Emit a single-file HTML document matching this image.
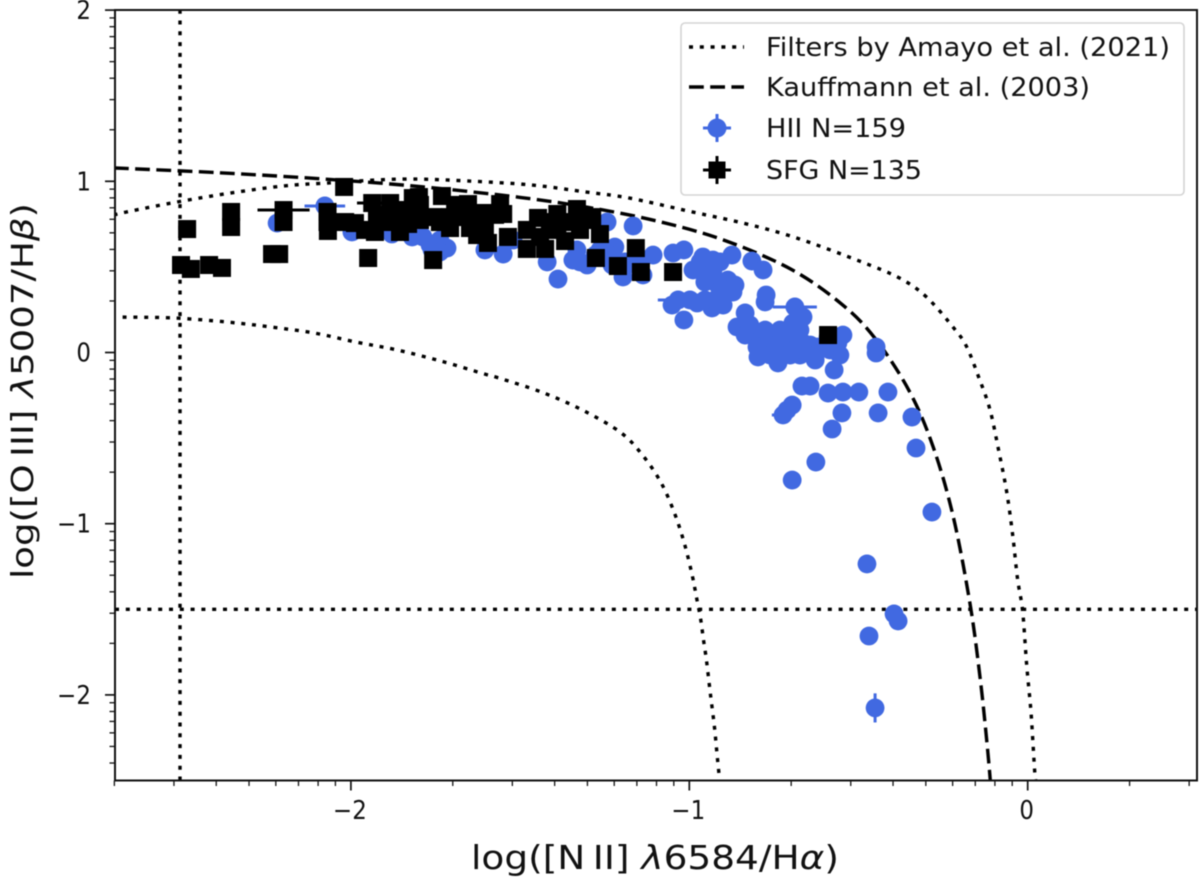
<!DOCTYPE html>
<html lang="en">
<head>
<meta charset="utf-8">
<title>BPT diagram</title>
<style>
html,body{margin:0;padding:0;background:#fff;width:1200px;height:878px;overflow:hidden}
svg{display:block;filter:blur(0.45px)}
text{font-family:"DejaVu Sans","Liberation Sans",sans-serif;fill:#111}
</style>
</head>
<body>
<svg id="chart" width="1200" height="878" viewBox="0 0 1200 878" xmlns="http://www.w3.org/2000/svg">
  <defs><clipPath id="plot-clip"><rect x="115" y="10" width="1082" height="770.5"/></clipPath></defs>
  <rect x="0" y="0" width="1200" height="878" fill="#fff"/>
  <g id="lines" clip-path="url(#plot-clip)"></g>
  <g id="marks" clip-path="url(#plot-clip)"></g>
  <g id="ticks"></g>
  <rect x="115" y="10" width="1082" height="770.5" fill="none" stroke="#111" stroke-width="2"/>

  <text x="655" y="869" text-anchor="middle" font-size="33" textLength="368" lengthAdjust="spacingAndGlyphs">log([N&#8201;II] <tspan font-style="italic">λ</tspan>6584/H<tspan font-style="italic">α</tspan>)</text>
  <text transform="translate(33,391) rotate(-90)" text-anchor="middle" font-size="30" textLength="376" lengthAdjust="spacingAndGlyphs">log([O&#8201;III] <tspan font-style="italic">λ</tspan>5007/H<tspan font-style="italic">β</tspan>)</text>

  <g>
    <rect x="681" y="23" width="503" height="172" rx="4" fill="#fff" fill-opacity="0.85" stroke="#d4d4d4" stroke-width="1.6"/>
    <g>
      <line x1="689" y1="47" x2="744" y2="47" stroke="#000" stroke-width="3.4" stroke-dasharray="4 6.8"/>
      <text x="766" y="56" font-size="25.5" textLength="404" lengthAdjust="spacingAndGlyphs">Filters by Amayo et al. (2021)</text>
    </g>
    <g>
      <line x1="689" y1="87" x2="744" y2="87" stroke="#000" stroke-width="3.4" stroke-dasharray="14.8 6.4"/>
      <text x="766" y="96" font-size="25.5" textLength="324" lengthAdjust="spacingAndGlyphs">Kauffmann et al. (2003)</text>
    </g>
    <g>
      <path d="M703 128H731M717 114V142" stroke="#4169e1" stroke-width="3"/>
      <circle cx="717" cy="128" r="9.5" fill="#4169e1"/>
      <text x="766" y="137" font-size="25.5" textLength="140" lengthAdjust="spacingAndGlyphs">HII N=159</text>
    </g>
    <g>
      <path d="M703 170H731M717 156V184" stroke="#000" stroke-width="3"/>
      <rect x="708.5" y="161.5" width="17" height="17" fill="#000"/>
      <text x="766" y="179" font-size="25.5" textLength="156" lengthAdjust="spacingAndGlyphs">SFG N=135</text>
    </g>
  </g>
</svg>
<script>
// ---- axis tick values ----
const xTickValues = [-2, -1, 0];
const xTickLabels = ['\u22122', '\u22121', '0'];
const yTickValues = [-2, -1, 0, 1, 2];
const yTickLabels = ['\u22122', '\u22121', '0', '1', '2'];
const minorMultipliers = [2, 3, 4, 5, 6, 7, 8, 9];
const minorDecades = [-3, -2, -1, 0, 1];

// ---- filter lines ----
const verticalFilterX = [-2.505];
const horizontalFilterY = [-1.5];

// ---- curves ----
const upperX = [-2.7,-2.677,-2.514,-2.354,-2.198,-2.07,-1.849,-1.656,-1.464,-1.304,-1.177,-0.991,-0.831,-0.683,-0.497,-0.379,-0.299,-0.216,-0.18,-0.145,-0.112,-0.086,-0.062,-0.044,-0.03,-0.015,-0.003,0.009,0.015,0.021,0.024];
const upperY = [0.8,0.815,0.879,0.932,0.973,0.99,1.013,1.002,0.978,0.937,0.902,0.821,0.751,0.669,0.534,0.435,0.324,0.137,0.032,-0.143,-0.33,-0.57,-0.815,-1.072,-1.323,-1.51,-1.825,-2.082,-2.263,-2.456,-2.503];
const lowerX = [-2.7,-2.686,-2.526,-2.366,-2.236,-2.109,-1.985,-1.864,-1.734,-1.615,-1.553,-1.429,-1.31,-1.201,-1.136,-1.083,-1.044,-1.014,-0.991,-0.979,-0.967,-0.958,-0.949,-0.938,-0.926,-0.917,-0.911];
const lowerY = [0.21,0.207,0.202,0.178,0.149,0.114,0.061,0.015,-0.05,-0.12,-0.155,-0.237,-0.342,-0.47,-0.605,-0.762,-0.937,-1.119,-1.305,-1.428,-1.551,-1.679,-1.802,-1.989,-2.182,-2.368,-2.485];
const kauffmannX = [-2.7,-2.4,-2.1,-1.8,-1.5,-1.3,-1.1,-0.9,-0.7,-0.55,-0.45,-0.35,-0.28,-0.22,-0.17,-0.14,-0.12,-0.11];
const kauffmannY = [1.078,1.051,1.016,0.97,0.906,0.848,0.77,0.658,0.487,0.283,0.08,-0.225,-0.548,-0.959,-1.473,-1.911,-2.288,-2.512];

// ---- HII sample ----
const hiiX = [-2.077,-1.033,-0.688,-0.723,-0.451,-2.218,-1.997,-1.879,-1.819,-1.746,-1.766,-1.737,-1.787,-1.604,-1.55,-1.521,-1.42,-1.388,-1.344,-1.302,-1.332,-1.264,-1.243,-1.166,-1.22,-1.225,-1.196,-1.196,-1.137,-1.107,-1.048,-1.016,-0.96,-0.93,-0.989,-0.954,-0.874,-0.815,-0.782,-0.886,-0.871,-0.9,-0.933,-0.977,-1.051,-1.016,-0.773,-0.776,-0.835,-0.859,-0.835,-0.797,-0.797,-0.8,-0.738,-0.738,-0.664,-0.694,-0.702,-0.664,-0.623,-0.753,-0.584,-0.546,-0.555,-0.572,-0.448,-0.448,-0.667,-0.643,-0.59,-0.546,-0.499,-0.413,-0.696,-0.711,-0.549,-0.442,-0.342,-0.578,-0.33,-0.626,-0.696,-0.283,-0.475,-0.395,-0.383,-0.469,-0.673,-0.761,-0.702,-0.628,-0.915,-1.76,-1.716,-1.737,-1.323,-1.278,-1.19,-1.228,-1.146,-1.234,-0.93,-0.909,-0.998,-0.954,-0.895,-0.865,-0.968,-0.939,-0.924,-0.767,-0.732,-0.673,-0.643,-0.688,-0.732,-0.761,-0.628,-0.59,-0.561,-0.821,-0.776,-0.732];
const hiiY = [0.856,0.307,0.266,-0.365,-2.076,0.756,0.704,0.692,0.675,0.616,0.628,0.657,0.675,0.599,0.575,0.657,0.529,0.429,0.54,0.511,0.599,0.599,0.762,0.739,0.616,0.54,0.441,0.482,0.453,0.569,0.581,0.599,0.558,0.54,0.482,0.412,0.569,0.534,0.482,0.423,0.353,0.277,0.26,0.289,0.277,0.19,0.336,0.295,0.231,0.149,0.102,0.102,-0.026,0.032,0.102,-0.061,0.207,0.172,0.073,0.055,0.032,0.015,0.015,0.102,-0.015,-0.102,0.032,-0.003,-0.196,-0.196,-0.237,-0.231,-0.231,-0.231,-0.307,-0.336,-0.353,-0.353,-0.377,-0.447,-0.558,-0.64,-0.745,-0.932,-1.235,-1.527,-1.568,-1.656,-0.015,0.102,-0.015,-0.044,0.394,0.599,0.61,0.587,0.529,0.569,0.529,0.511,0.529,0.569,0.482,0.529,0.307,0.307,0.365,0.394,0.529,0.453,0.307,0.044,0.044,0.131,0.044,0.015,-0.015,-0.015,-0.015,0.091,0.055,0.161,0.131,0.131];
const hiiXErr = [0.06,0.06,0.065,0.033,0];
const hiiYErr = [0.03,0,0,0,0.085];

// ---- SFG sample ----
const sfgX = [-2.199,-1.937,-2.502,-2.473,-2.419,-2.381,-2.484,-2.354,-2.354,-2.199,-2.233,-2.212,-2.02,-2.069,-2.069,-2.068,-2.017,-1.958,-1.929,-1.949,-1.884,-1.817,-1.988,-1.923,-1.864,-1.831,-1.796,-1.731,-1.834,-1.757,-1.707,-1.737,-1.757,-1.654,-1.654,-1.627,-1.595,-1.559,-1.55,-1.61,-1.536,-1.48,-1.48,-1.447,-1.39,-1.332,-1.287,-1.264,-1.367,-1.426,-1.39,-1.323,-1.441,-1.276,-1.211,-1.158,-1.143,-1.048,-0.59,-1.707,-1.855,-1.796,-1.692,-1.799,-1.908,-1.855,-1.884,-1.819,-1.412,-1.353,-1.308,-1.604,-1.648,-1.574];
const sfgY = [0.832,0.873,0.511,0.488,0.511,0.494,0.721,0.821,0.733,0.762,0.575,0.575,0.967,0.821,0.762,0.71,0.762,0.716,0.704,0.552,0.873,0.902,0.756,0.774,0.774,0.751,0.774,0.914,0.832,0.791,0.791,0.762,0.54,0.867,0.791,0.686,0.64,0.867,0.809,0.815,0.675,0.605,0.716,0.786,0.809,0.838,0.791,0.692,0.651,0.605,0.716,0.716,0.675,0.552,0.505,0.61,0.47,0.47,0.102,0.727,0.704,0.862,0.862,0.908,0.803,0.832,0.762,0.803,0.762,0.762,0.774,0.733,0.727,0.804];
const sfgXErr = [0.077,0.045];

const SVG_NS = 'http://www.w3.org/2000/svg';
const X_ZERO = 1027.7, X_UNIT = 338.4, Y_ZERO = 352.5, Y_UNIT = 171.2;
const PLOT_LEFT = 115, PLOT_RIGHT = 1197, PLOT_TOP = 10, PLOT_BOTTOM = 780.5;
const sx = v => X_ZERO + X_UNIT * v;
const sy = v => Y_ZERO - Y_UNIT * v;
const make = (tag, props, parent) => {
  const el = document.createElementNS(SVG_NS, tag);
  Object.keys(props).forEach(k => el.setAttribute(k, props[k]));
  parent.appendChild(el);
  return el;
};

function smoothPath(xs, ys) {
  const p = xs.map((x, i) => [sx(x), sy(ys[i])]);
  let d = 'M' + p[0][0].toFixed(2) + ' ' + p[0][1].toFixed(2);
  for (let i = 0; i < p.length - 1; i++) {
    const a = p[Math.max(i - 1, 0)], b = p[i], c = p[i + 1], e = p[Math.min(i + 2, p.length - 1)];
    const c1 = [b[0] + (c[0] - a[0]) / 6, b[1] + (c[1] - a[1]) / 6];
    const c2 = [c[0] - (e[0] - b[0]) / 6, c[1] - (e[1] - b[1]) / 6];
    d += 'C' + c1[0].toFixed(2) + ' ' + c1[1].toFixed(2) + ' ' + c2[0].toFixed(2) + ' ' + c2[1].toFixed(2) + ' ' + c[0].toFixed(2) + ' ' + c[1].toFixed(2);
  }
  return d;
}

const linesG = document.getElementById('lines');
const marksG = document.getElementById('marks');
const ticksG = document.getElementById('ticks');
const DOTTED = { fill: 'none', stroke: '#000', 'stroke-width': 3.4, 'stroke-dasharray': '4 6.8' };

const upperPath = make('path', Object.assign({ d: smoothPath(upperX, upperY) }, DOTTED), linesG);



const lowerPath = make('path', Object.assign({ d: smoothPath(lowerX, lowerY) }, DOTTED), linesG);



const kauffmannPath = make('path', { d: smoothPath(kauffmannX, kauffmannY), fill: 'none', stroke: '#000', 'stroke-width': 3.4, 'stroke-dasharray': '14.8 6.4' }, linesG);



verticalFilterX.forEach(v => {
  const line = make('line', Object.assign({ x1: sx(v), x2: sx(v), y1: PLOT_BOTTOM, y2: PLOT_TOP }, DOTTED), linesG);
  
  
});
horizontalFilterY.forEach(v => {
  const line = make('line', Object.assign({ x1: PLOT_LEFT, x2: PLOT_RIGHT, y1: sy(v), y2: sy(v) }, DOTTED), linesG);
  
  
});

hiiX.forEach((x, i) => {
  const xe = hiiXErr[i] || 0, ye = hiiYErr[i] || 0;
  if (xe || ye) {
    const err = make('path', {
      d: 'M' + sx(x - xe) + ' ' + sy(hiiY[i]) + 'H' + sx(x + xe) + 'M' + sx(x) + ' ' + sy(hiiY[i] - ye) + 'V' + sy(hiiY[i] + ye),
      stroke: '#4169e1', 'stroke-width': 3, fill: 'none'
    }, marksG);
    
    
  }
  const dot = make('circle', { cx: sx(x), cy: sy(hiiY[i]), r: 9.4, fill: '#4169e1' }, marksG);
  
  
});

sfgX.forEach((x, i) => {
  const xe = sfgXErr[i] || 0;
  if (xe) {
    const err = make('line', { x1: sx(x - xe), x2: sx(x + xe), y1: sy(sfgY[i]), y2: sy(sfgY[i]), stroke: '#000', 'stroke-width': 3 }, marksG);
    
    
  }
  const sq = make('rect', { x: sx(x) - 9, y: sy(sfgY[i]) - 9, width: 18, height: 18, fill: '#000' }, marksG);
  
  
});

xTickValues.forEach((v, i) => {
  const tick = make('line', { x1: sx(v), x2: sx(v), y1: PLOT_BOTTOM, y2: PLOT_BOTTOM + 10, stroke: '#111', 'stroke-width': 1.7 }, ticksG);
  
  
  const label = make('text', { transform: 'translate(' + (sx(v) - 1) + ',819) scale(0.9,1)', 'text-anchor': 'middle', 'font-size': 25.5 }, ticksG);
  
  
  label.textContent = xTickLabels[i];
});
yTickValues.forEach((v, i) => {
  const tick = make('line', { x1: PLOT_LEFT - 10, x2: PLOT_LEFT, y1: sy(v), y2: sy(v), stroke: '#111', 'stroke-width': 1.7 }, ticksG);
  
  
  const label = make('text', { transform: 'translate(91,' + (sy(v) + 9) + ') scale(0.9,1)', 'text-anchor': 'end', 'font-size': 25.5 }, ticksG);
  
  
  label.textContent = yTickLabels[i];
});
minorDecades.forEach(k => {
  minorMultipliers.forEach(m => {
    const v = k + Math.log10(m);
    const px = sx(v);
    if (px >= PLOT_LEFT - 1 && px <= PLOT_RIGHT + 1) {
      const t = make('line', { x1: px, x2: px, y1: PLOT_BOTTOM, y2: PLOT_BOTTOM + 5.5, stroke: '#111', 'stroke-width': 1.3 }, ticksG);
      
      
    }
    const py = sy(v);
    if (py >= PLOT_TOP - 1 && py <= PLOT_BOTTOM + 1) {
      const t = make('line', { x1: PLOT_LEFT - 5.5, x2: PLOT_LEFT, y1: py, y2: py, stroke: '#111', 'stroke-width': 1.3 }, ticksG);
      
      
    }
  });
});
</script>
</body>
</html>
